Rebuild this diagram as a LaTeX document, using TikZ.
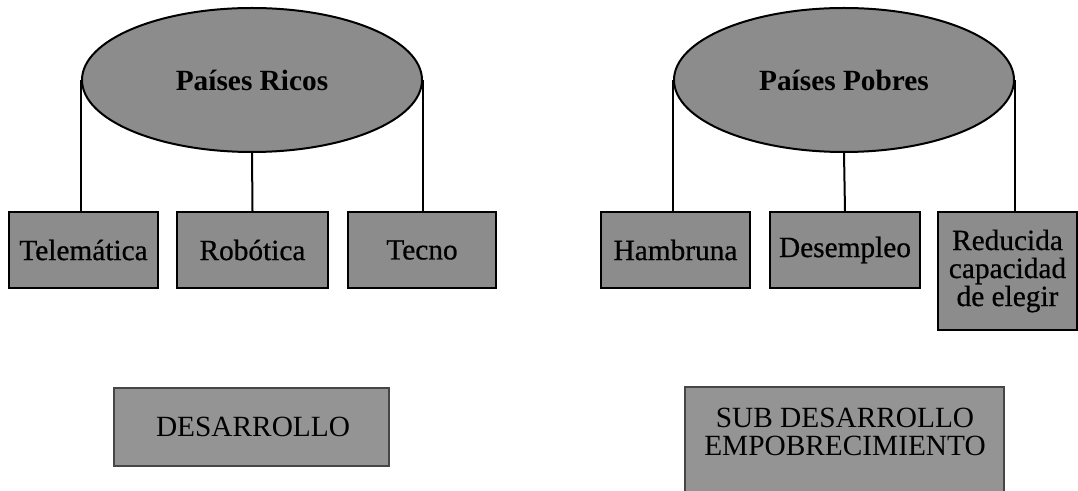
\documentclass[tikz,border=0pt]{standalone}
\usepackage{fontspec}
\setmainfont{Liberation Serif}
\usetikzlibrary{shapes.geometric}
\definecolor{shade}{RGB}{140,140,140}
\definecolor{bandshade}{RGB}{148,148,148}
\definecolor{bandedge}{RGB}{70,70,70}

\begin{document}
\begin{tikzpicture}[x=0.75pt,y=-0.75pt,
  hub/.style={ellipse, draw=black, line width=1.5pt, fill=shade,
    minimum width=255pt, minimum height=108pt, inner sep=0pt,
    font=\fontsize{22}{22}\selectfont\bfseries},
  leaf/.style={rectangle, draw=black, line width=1.5pt, fill=shade,
    minimum height=57pt, inner sep=0pt, align=center,
    font=\fontsize{22}{21}\selectfont\addfontfeature{FakeBold=0.6}},
  wire/.style={line width=1.5pt, draw=black},
  band/.style={fill=bandshade, draw=bandedge, line width=0.8pt},
  bandtext/.style={inner sep=0pt, align=center,
    font=\fontsize{22}{21.5}\selectfont}]

\useasboundingbox (0,0) rectangle (1078,491);
\clip (0,0) rectangle (1078,491);

% left group
\node[hub] (rich) at (252,80) {\raisebox{-4pt}{Países Ricos}};
\node[leaf, minimum width=111.75pt] (tele)  at (83.5,250)  {Telemática};
\node[leaf, minimum width=113.25pt] (robo)  at (252.5,250) {Robótica};
\node[leaf, minimum width=111pt]    (tecno) at (422,250)   {Tecno};

\draw[wire] (rich.west) -- (rich.west |- tele.north);
\draw[wire] (rich.south) -- (robo.north);
\draw[wire] (rich.east) -- (rich.east |- tecno.north);

% right group
\node[hub] (poor) at (844,80) {\raisebox{-4pt}{Países Pobres}};
\node[leaf, minimum width=111.75pt] (hunger) at (675.5,250) {Hambruna};
\node[leaf, minimum width=112.5pt]  (jobs)   at (845,250)   {Desempleo};
\node[leaf, minimum width=104.25pt, minimum height=88.5pt] (choice) at (1007.5,271)
  {Reducida\\capacidad\\de elegir};

\draw[wire] (poor.west) -- (poor.west |- hunger.north);
\draw[wire] (poor.south) -- (jobs.north);
\draw[wire] (poor.east) -- (poor.east |- choice.north);

% captions
\path[band] (114,388) rectangle (389,466);
\node[bandtext] (dev) at (253,427) {DESARROLLO};

\path[band] (685,387) rectangle (1004,500);
\node[bandtext] (underdev) at (845,432) {SUB DESARROLLO\\EMPOBRECIMIENTO};

\end{tikzpicture}
\end{document}
